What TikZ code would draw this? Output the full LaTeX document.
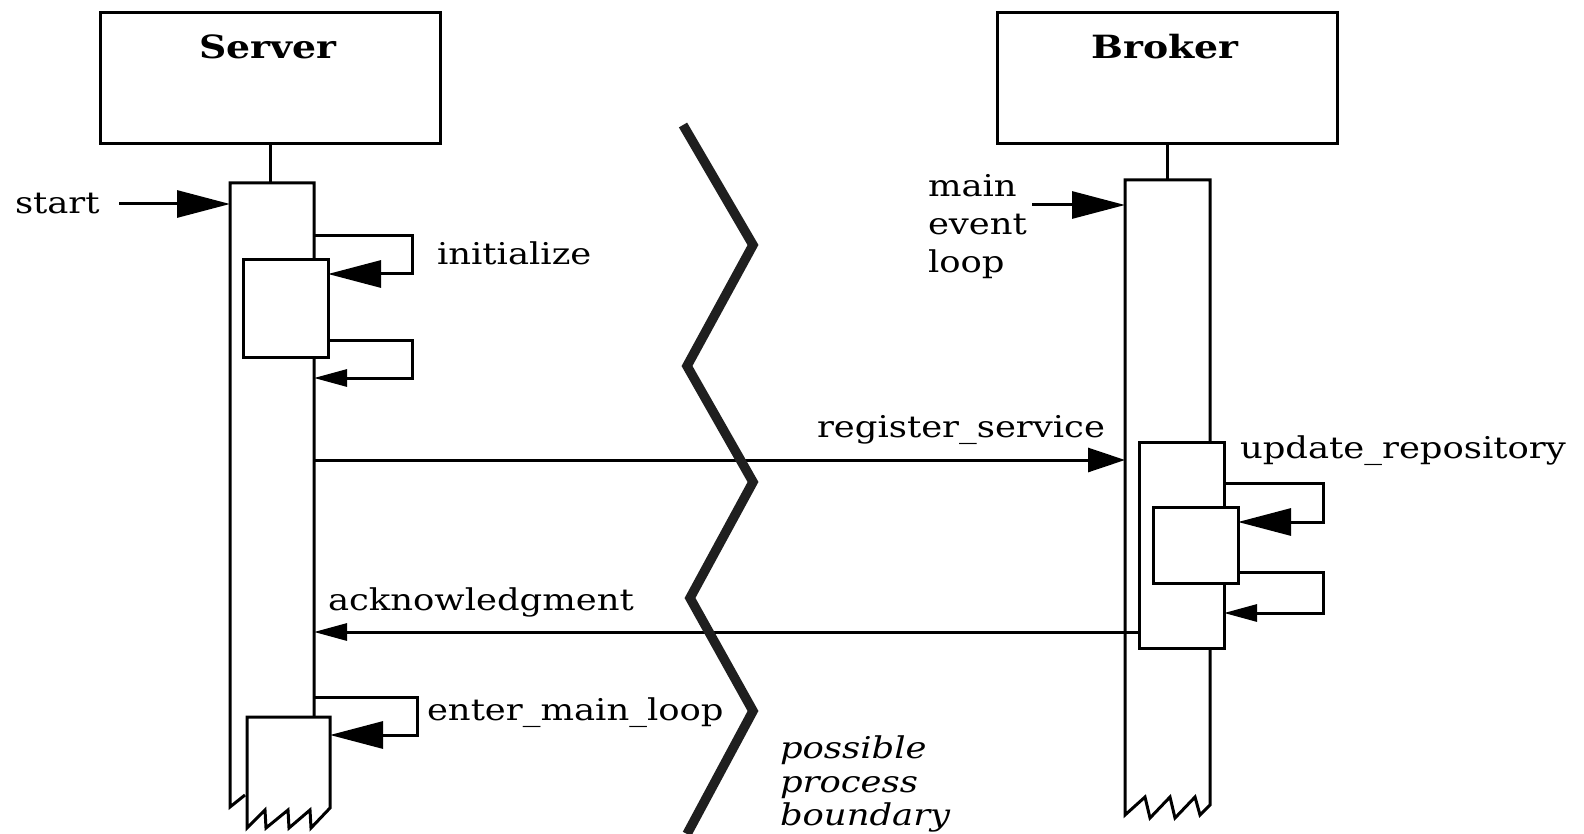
\documentclass[tikz,border=0pt]{standalone}
\usepackage{fontspec}
\setmainfont[FakeStretch=1.18]{DejaVu Serif}
\usetikzlibrary{arrows.meta,calc}

\tikzset{
  every node/.style={inner sep=0pt, outer sep=0pt},
  ln/.style={line width=3pt, line join=miter},
  box/.style={draw, rectangle, line width=3pt, fill=white},
  lbl/.style={font=\fontsize{30}{36}\selectfont, anchor=base west},
  ttl/.style={font=\fontsize{32}{40}\selectfont\bfseries},
  bigtip/.style={-{Triangle[length=53pt,width=27pt]}},
  midtip/.style={-{Triangle[length=37pt,width=24pt]}},
  smalltip/.style={-{Triangle[length=33pt,width=17pt]}},
  boundary/.style={line width=9.5pt, draw=black!88, line join=miter, line cap=butt},
}

\begin{document}
\begin{tikzpicture}[x=1pt,y=-1pt]
\useasboundingbox (0,0) rectangle (1584,834);

% ---------------- objects ----------------
\node[box, minimum width=340pt, minimum height=131pt] (server) at (270,78.5) {};
\node[ttl] (servername) at (268,47) {Server};
\node[box, minimum width=340pt, minimum height=131pt] (broker) at (1167,78.5) {};
\node[ttl] (brokername) at (1165,47) {Broker};

% ---------------- server lifeline ----------------
\coordinate (sbarTL) at (230,183);
\coordinate (sbarTR) at (314,183);
\draw[ln] (server.south) -- (server.south |- sbarTL);
\draw[ln, fill=white] (245,795) -- (230,807) -- (sbarTL) -- (sbarTR) -- (314,800);

% nested activation: initialize
\node[box, minimum width=85pt, minimum height=97pt] (init) at (285.5,308.5) {};
\draw[ln, bigtip] (sbarTR |- 0,236) -- (412,236) -- (412,274) -- (init.east |- 0,274);
\draw[ln, smalltip] (init.east |- 0,340) -- (412,340) -- (412,378) -- (sbarTR |- 0,378);
\node[lbl] (initlbl) at (437,265) {initialize};

% start message
\node[lbl] (startlbl) at (15,214) {start};
\draw[ln, bigtip] (119,204) -- (sbarTL |- 0,204);

% nested activation: enter_main_loop (continues below the frame)
\coordinate (enterTL) at (247,717);
\coordinate (enterTR) at (330,717);
\draw[ln, fill=white] (enterTL) -- (247,828) -- (265,810) -- (266,828) -- (288,810)
  -- (289,828) -- (310,810) -- (311,828) -- (330,808) -- (enterTR) -- cycle;
\draw[ln, bigtip] (sbarTR |- 0,697) -- (417,697) -- (417,735) -- (enterTR |- 0,735);
\node[lbl] (enterlbl) at (427,720) {enter\_main\_loop};

% ---------------- broker lifeline ----------------
\coordinate (bbarTL) at (1125,180);
\coordinate (bbarTR) at (1210,180);
\draw[ln] (broker.south) -- (broker.south |- bbarTL);
\draw[ln, fill=white] (bbarTL) -- (1125,815) -- (1145,797) -- (1150,818) -- (1170,797)
  -- (1175,818) -- (1195,797) -- (1200,815) -- (1210,805) -- (bbarTR) -- cycle;

\node[lbl, align=left, anchor=north west, font=\fontsize{30}{38}\selectfont] (looplbl) at (928,174)
  {main\\event\\loop};
\draw[ln, bigtip] (1032,205) -- (bbarTL |- 0,205);

% activation: update_repository
\node[box, minimum width=85pt, minimum height=206pt] (upd) at (1181.5,545) {};
\node[box, minimum width=85pt, minimum height=76pt] (updin) at (1195.5,545) {};
\draw[ln, bigtip] (upd.east |- 0,483) -- (1323,483) -- (1323,522) -- (updin.east |- 0,522);
\draw[ln, smalltip] (updin.east |- 0,572) -- (1323,572) -- (1323,613) -- (upd.east |- 0,613);
\node[lbl] (updlbl) at (1240,458) {update\_repository};

% ---------------- messages ----------------
\draw[ln, midtip] (sbarTR |- 0,460) -- (bbarTL |- 0,460);
\node[lbl] (reglbl) at (817,437) {register\_service};

\draw[ln, smalltip] (upd.west |- 0,632) -- (sbarTR |- 0,632);
\node[lbl] (acklbl) at (328,610) {acknowledgment};

% ---------------- process boundary ----------------
\draw[boundary] (683,125) -- (753,245) -- (687,366) -- (753,482) -- (690,598)
  -- (753,711) -- (687,834);
\node[lbl, align=left, anchor=north west, font=\fontsize{30}{33.5}\selectfont\itshape] (bndlbl)
  at (780,736) {possible\\process\\boundary};
\end{tikzpicture}
\end{document}
